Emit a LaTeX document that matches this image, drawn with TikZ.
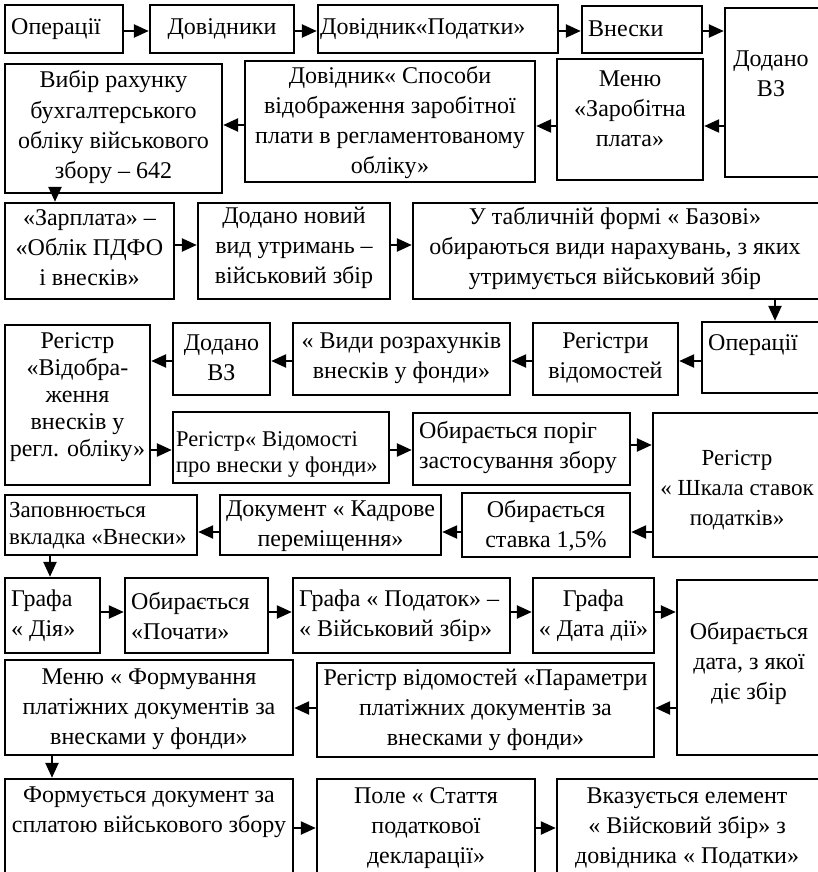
\documentclass[tikz,border=0pt]{standalone}
\usepackage{fontspec}
\setmainfont{Liberation Serif}
\usetikzlibrary{arrows.meta}
\tikzset{
  bxs/.style={draw, line width=2.4pt, inner sep=0pt},
  txt/.style={inner sep=0pt, font=\fontsize{24}{30}\selectfont},
  smalltxt/.style={font=\fontsize{22.5}{26}\selectfont},
  arr/.style={line width=2.4pt, -{Triangle[length=15pt,width=13pt]}},
}
\newcommand\boxC[8][]{%
  \node[bxs, minimum width={(#5-#3)*1pt}, minimum height={(#6-#4)*1pt}] (#2) at ({(#3+#5)/2},{(#4+#6)/2}) {};
  \node[txt, align=center, #1] (#2-t) at ({(#3+#5)/2},#7) {#8};}
\newcommand\boxL[8][]{%
  \node[bxs, minimum width={(#5-#3)*1pt}, minimum height={(#6-#4)*1pt}] (#2) at ({(#3+#5)/2},{(#4+#6)/2}) {};
  \node[txt, align=left, anchor=west, #1] (#2-t) at ({#3+6},#7) {#8};}
\begin{document}
\begin{tikzpicture}[x=1pt,y=-1pt]
\fill[white] (0,0) rectangle (818,872);
\useasboundingbox (0,0) rectangle (818,872);
% row 1
\boxL{op1}{5}{5}{123}{53}{29}{Операції}
\boxC{dov}{150}{5}{294}{53}{29}{Довідники}
\boxL[xshift=-4pt]{dovpod}{318}{5}{558}{53}{29}{Довідник«Податки»}
\boxL{vnes}{582}{6}{702}{53}{29}{Внески}
\boxC[xshift=-2pt]{dodvz1}{725}{8}{821}{177}{74}{Додано\\ВЗ}
% row 2
\boxC{vybir}{5}{64}{222}{193}{127}{Вибір рахунку\\бухгалтерського\\обліку військового\\збору – 642}
\boxC{sposoby}{245}{61}{535}{182}{122}{Довідник« Способи\\відображення заробітної\\плати в регламентованому\\обліку»}
\boxC{menu}{557}{59}{703}{180}{109}{Меню\\«Заробітна\\плата»}
% row 3
\boxC{zarpl}{5}{203}{174}{299}{248}{«Зарплата» –\\«Облік ПДФО\\і внесків»}
\boxC{dodnov}{198}{203}{390}{299}{248}{Додано новий\\вид утримань –\\військовий збір}
\boxC[xshift=-2pt]{tabl}{413}{203}{821}{299}{248}{У табличній формі « Базові»\\обираються види нарахувань, з яких\\утримується військовий збір}
% row 4
\boxC[font=\fontsize{24}{27}\selectfont]{regvid}{5}{325}{150}{485}{397}{Регістр\\«Відобра-\\ження\\внесків у\\регл. обліку»}
\boxC{dodvz2}{173}{323}{270}{395}{358}{Додано\\ВЗ}
\boxC{vydy}{293}{323}{510}{395}{358}{« Види розрахунків\\внесків у фонди»}
\boxC{registry}{533}{323}{678}{395}{358}{Регістри\\відомостей}
\boxL{op2}{702}{322}{821}{393}{345}{Операції}
% row 5
\boxL[smalltxt, xshift=-3pt]{vidom}{173}{412}{389}{483}{454}{Регістр« Відомості\\про внески у фонди»}
\boxL{porig}{413}{413}{630}{485}{447}{Обирається поріг\\застосування збору}
\boxC[smalltxt, font=\fontsize{23}{30}\selectfont]{shkala}{653}{413}{821}{557}{490}{Регістр\\« Шкала ставок\\податків»}
% row 6
\boxL[font=\fontsize{23}{27}\selectfont, xshift=-2pt]{zapovn}{5}{495}{197}{555}{526}{Заповнюється\\вкладка «Внески»}
\boxC{kadr}{220}{495}{441}{555}{526}{Документ « Кадрове\\переміщення»}
\boxC{stavka}{462}{493}{630}{557}{526}{Обирається\\ставка 1,5\%}
% row 7
\boxL{diya}{5}{578}{100}{653}{616}{Графа\\« Дія»}
\boxL{pochaty}{125}{578}{268}{653}{616}{Обирається\\«Почати»}
\boxL{podatok}{293}{578}{510}{653}{616}{Графа « Податок» –\\« Військовий збір»}
\boxC{datadii}{533}{578}{654}{653}{616}{Графа\\« Дата дії»}
\boxC{obdata}{677}{580}{821}{755}{663}{Обирається\\дата, з якої\\діє збір}
% row 8
\boxC{menuform}{5}{660}{293}{755}{709}{Меню « Формування\\платіжних документів за\\внесками у фонди»}
\boxC{param}{317}{663}{654}{757}{710}{Регістр відомостей «Параметри\\платіжних документів за\\внесками у фонди»}
% row 9
\boxC{form}{5}{779}{293}{874}{812}{Формується документ за\\сплатою військового збору}
\boxC{pole}{317}{779}{535}{874}{828}{Поле « Стаття\\податкової\\декларації»}
\boxC[xshift=-2pt]{vkaz}{557}{779}{821}{874}{828}{Вказується елемент\\« Війсковий збір» з\\довідника « Податки»}
% arrows
\draw[arr] (op1.east |- 0,31) -- (dov.west |- 0,31);
\draw[arr] (dov.east |- 0,31) -- (dovpod.west |- 0,31);
\draw[arr] (dovpod.east |- 0,31) -- (vnes.west |- 0,31);
\draw[arr] (vnes.east |- 0,31) -- (dodvz1.west |- 0,31);
\draw[arr] (dodvz1.west |- 0,126) -- (menu.east |- 0,126);
\draw[arr] (menu.west |- 0,126) -- (sposoby.east |- 0,126);
\draw[arr] (sposoby.west |- 0,125) -- (vybir.east |- 0,125);
\draw[arr] (vybir.south -| 55,0) -- (zarpl.north -| 55,0);
\draw[arr] (zarpl.east |- 0,245) -- (dodnov.west |- 0,245);
\draw[arr] (dodnov.east |- 0,245) -- (tabl.west |- 0,245);
\draw[arr] (tabl.south -| 775,0) -- (op2.north -| 775,0);
\draw[arr] (op2.west |- 0,361) -- (registry.east |- 0,361);
\draw[arr] (registry.west |- 0,361) -- (vydy.east |- 0,361);
\draw[arr] (vydy.west |- 0,361) -- (dodvz2.east |- 0,361);
\draw[arr] (dodvz2.west |- 0,361) -- (regvid.east |- 0,361);
\draw[arr] (regvid.east |- 0,450) -- (vidom.west |- 0,450);
\draw[arr] (vidom.east |- 0,450) -- (porig.west |- 0,450);
\draw[arr] (porig.east |- 0,445) -- (shkala.west |- 0,445);
\draw[arr] (shkala.west |- 0,532) -- (stavka.east |- 0,532);
\draw[arr] (stavka.west |- 0,532) -- (kadr.east |- 0,532);
\draw[arr] (kadr.west |- 0,532) -- (zapovn.east |- 0,532);
\draw[arr] (zapovn.south -| 50,0) -- (diya.north -| 50,0);
\draw[arr] (diya.east |- 0,612) -- (pochaty.west |- 0,612);
\draw[arr] (pochaty.east |- 0,612) -- (podatok.west |- 0,612);
\draw[arr] (podatok.east |- 0,612) -- (datadii.west |- 0,612);
\draw[arr] (datadii.east |- 0,612) -- (obdata.west |- 0,612);
\draw[arr] (obdata.west |- 0,708) -- (param.east |- 0,708);
\draw[arr] (param.west |- 0,708) -- (menuform.east |- 0,708);
\draw[arr] (menuform.south -| 52,0) -- (form.north -| 52,0);
\draw[arr] (form.east |- 0,828) -- (pole.west |- 0,828);
\draw[arr] (pole.east |- 0,828) -- (vkaz.west |- 0,828);
\end{tikzpicture}
\end{document}
